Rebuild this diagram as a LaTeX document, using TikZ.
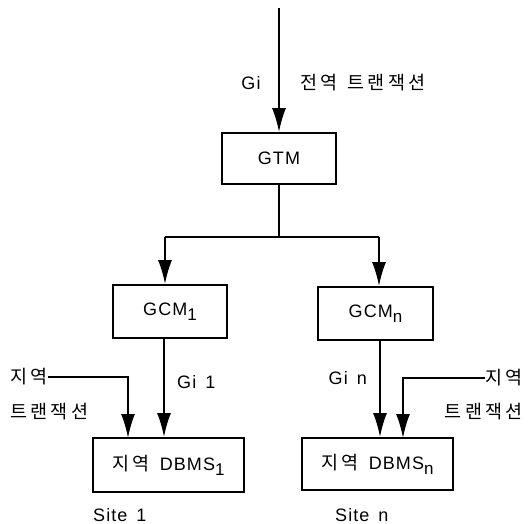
\documentclass[tikz,border=0pt]{standalone}
\usepackage{fontspec}
\setmainfont{Liberation Sans}[LetterSpace=6]
\newfontfamily\kr{Noto Sans CJK KR}[LetterSpace=18]
\usetikzlibrary{arrows.meta}
\newcommand\sbs[1]{\raisebox{-5pt}{\fontsize{17}{19}\selectfont #1}}
\newcommand\ksp{\hspace{10pt}}
\begin{document}
\begin{tikzpicture}[x=1pt,y=-1pt,
  txt/.style={font=\fontsize{18}{21}\selectfont},
  ktxt/.style={font=\fontsize{18.5}{21}\selectfont\kr},
  box/.style={draw, line width=1.8pt, inner sep=0pt, txt},
  lbl/.style={inner sep=0pt, txt},
  klbl/.style={inner sep=0pt, ktxt},
  conn/.style={line width=1.8pt},
  arr/.style={conn, -{Latex[length=24pt,width=14pt]}}]
\useasboundingbox (0,0) rectangle (531,524);
% boxes
\node[box, minimum width=114pt, minimum height=51pt] (gtm) at (279,158.5) {GTM};
\node[box, minimum width=114pt, minimum height=53pt] (gcm1) at (170,311.5) {GCM\sbs{1}};
\node[box, minimum width=115pt, minimum height=53pt] (gcmn) at (375.5,313.5) {GCM\sbs{n}};
\node[box, minimum width=151pt, minimum height=54pt] (dbms1) at (168.5,465) {{\fontsize{18.5}{21}\selectfont\kr 지역}\ksp DBMS\sbs{1}};
\node[box, minimum width=151pt, minimum height=52pt] (dbmsn) at (377.5,464) {{\fontsize{18.5}{21}\selectfont\kr 지역}\ksp DBMS\sbs{n}};
% top input
\coordinate (top) at (279,8);
\draw[arr] (top) -- (gtm.north);
\node[lbl] (gi) at (251,83) {Gi};
\node[klbl, anchor=west] (glob) at (300,83) {전역\ksp 트랜잭션};
% split
\coordinate (split) at (279,237);
\coordinate (sl) at (165,237);
\coordinate (sr) at (379,237);
\draw[conn] (gtm.south) -- (split);
\draw[conn] (sl) -- (sr);
\draw[arr] (sl) -- (sl |- gcm1.north);
\draw[arr] (sr) -- (sr |- gcmn.north);
% site 1
\draw[arr] ([xshift=-6pt]gcm1.south) -- ([xshift=-6pt]gcm1.south |- dbms1.north);
\node[lbl, anchor=west] (gi1) at (177,382) {Gi\hspace{9pt}1};
\node[klbl, anchor=west] (lk1a) at (10,377) {지역};
\node[klbl, anchor=west] (lk1b) at (10,412) {트랜잭션};
\coordinate (b1) at (128,438);
\draw[arr] (lk1a.east) -| (b1);
\node[lbl, anchor=west] (site1) at (93,515) {Site\hspace{9pt}1};
% site n
\draw[arr] ([xshift=4.5pt]gcmn.south) -- ([xshift=4.5pt]gcmn.south |- dbmsn.north);
\node[lbl, anchor=east] (gin) at (367,378) {Gi\hspace{9pt}n};
\node[klbl, anchor=east] (lkna) at (523,378) {지역};
\node[klbl, anchor=east] (lknb) at (523,412) {트랜잭션};
\coordinate (bn) at (403,438);
\draw[arr] (lkna.west) -| (bn);
\node[lbl, anchor=west] (siten) at (335,515) {Site\hspace{9pt}n};
\end{tikzpicture}
\end{document}
